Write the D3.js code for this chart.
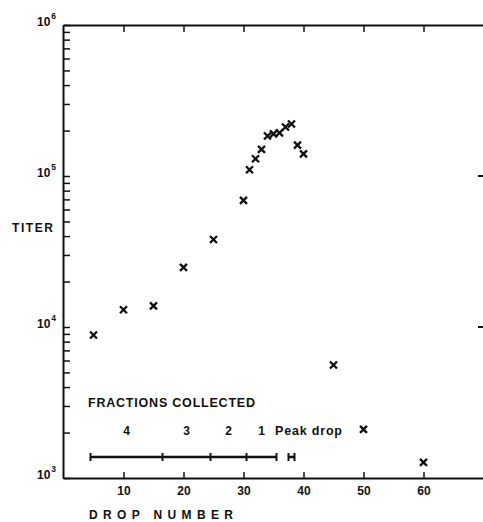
<!DOCTYPE html>
<html>
<head>
    <style>
        body { margin: 0; background: #fff; }
        svg text {
            font-family: "Liberation Sans", Arial, sans-serif;
            font-weight: bold;
            fill: #111;
        }
        .axis path, .axis line { stroke: #111; }
        .axis path { stroke-width: 2; }
        .axis line { stroke-width: 1.5; }
    </style>
    <script src="https://d3js.org/d3.v7.min.js"></script>
</head>
<body>
    <svg width="483" height="522"></svg>
    <script>
        // drop number and titer
        var drops = [5, 10, 15, 20, 25, 30, 31, 32, 33, 34, 35, 36, 37, 38, 39, 40, 45, 50, 60];
        var titers = [8850, 13000, 13800, 24800, 38000, 69000, 110000, 130000, 150000, 184000,
            190000, 193000, 211000, 221000, 160000, 140000, 5600, 2100, 1270];

        var xTicks = [10, 20, 30, 40, 50, 60];
        var decades = [1e3, 1e4, 1e5, 1e6];
        var decadeExp = ["3", "4", "5", "6"];

        // fractions collected: boundaries (drop number) and their labels
        var fractionEdges = [4.5, 16.5, 24.5, 30.5, 35.5];
        var fractionNames = ["4", "3", "2", "1"];
        var peakDrop = [37.5, 38.5];

        var svg = d3.select("svg");

        var x = d3.scaleLinear().domain([0, 70]).range([63.5, 483.5]);
        var y = d3.scaleLog().domain([1e3, 1e6]).range([478, 25]);

        // all minor + major log ticks
        var logTicks = [];
        decades.forEach(function (d) {
            for (var i = 1; i < 10; i++) {
                if (d * i <= 1e6) logTicks.push(d * i);
            }
        });

        // bottom axis
        svg.append("g")
            .attr("class", "axis")
            .attr("transform", "translate(0,478)")
            .call(d3.axisBottom(x).tickValues(xTicks).tickSizeInner(-6).tickSizeOuter(0).tickPadding(8))
            .call(function (g) {
                g.selectAll("text").style("font-size", "12px").attr("fill", "#111");
            });

        // top axis
        svg.append("g")
            .attr("class", "axis")
            .attr("transform", "translate(0,25)")
            .call(d3.axisTop(x).tickValues(xTicks).tickSizeInner(-7).tickSizeOuter(0).tickFormat(""));

        // left axis
        svg.append("g")
            .attr("class", "axis")
            .attr("transform", "translate(63,0)")
            .call(d3.axisLeft(y).tickValues(logTicks).tickSizeInner(-7).tickSizeOuter(0).tickFormat(""));

        // right side decade marks (frame itself is cut off)
        svg.append("g")
            .selectAll("line")
            .data(decades.slice(1, 3))
            .enter().append("line")
            .attr("x1", 478).attr("x2", 483)
            .attr("y1", function (d) { return y(d); })
            .attr("y2", function (d) { return y(d); })
            .attr("stroke", "#111")
            .attr("stroke-width", 2);

        // y labels 10^n
        var ylab = svg.append("g").selectAll("text")
            .data(decades)
            .enter().append("text")
            .attr("x", 37)
            .attr("y", function (d) { return y(d) + 1; })
            .style("font-size", "12px");
        ylab.append("tspan").text("10");
        ylab.append("tspan")
            .attr("dx", 1)
            .attr("dy", -7)
            .style("font-size", "8.5px")
            .text(function (d, i) { return decadeExp[i]; });

        svg.append("text")
            .attr("x", 12).attr("y", 232)
            .attr("textLength", 41).attr("lengthAdjust", "spacing")
            .style("font-size", "12px")
            .text("TITER");

        svg.append("text")
            .attr("x", 89).attr("y", 519)
            .attr("textLength", 144).attr("lengthAdjust", "spacing")
            .style("font-size", "12px")
            .text("DROP NUMBER");

        // data markers
        svg.append("g").selectAll("path")
            .data(drops)
            .enter().append("path")
            .attr("transform", function (d, i) { return "translate(" + x(d) + "," + y(titers[i]) + ")"; })
            .attr("d", "M-3.5,-3.5L3.5,3.5M3.5,-3.5L-3.5,3.5")
            .attr("stroke", "#111")
            .attr("stroke-width", 2.3);

        // fractions collected
        svg.append("text")
            .attr("x", 88).attr("y", 407)
            .attr("textLength", 167).attr("lengthAdjust", "spacing")
            .style("font-size", "12.5px")
            .text("FRACTIONS COLLECTED");

        var barY = 457;
        svg.append("line")
            .attr("x1", x(fractionEdges[0])).attr("x2", x(fractionEdges[fractionEdges.length - 1]))
            .attr("y1", barY).attr("y2", barY)
            .attr("stroke", "#111").attr("stroke-width", 2.5);
        svg.append("g").selectAll("line")
            .data(fractionEdges)
            .enter().append("line")
            .attr("x1", function (d) { return x(d); })
            .attr("x2", function (d) { return x(d); })
            .attr("y1", barY - 4).attr("y2", barY + 4)
            .attr("stroke", "#111").attr("stroke-width", 2);

        svg.append("g").selectAll("text")
            .data(fractionNames)
            .enter().append("text")
            .attr("x", function (d, i) { return x((fractionEdges[i] + fractionEdges[i + 1]) / 2); })
            .attr("y", 435)
            .attr("text-anchor", "middle")
            .style("font-size", "12px")
            .text(function (d) { return d; });

        svg.append("text")
            .attr("x", 275).attr("y", 435)
            .attr("textLength", 67).attr("lengthAdjust", "spacing")
            .style("font-size", "12.5px")
            .text("Peak drop");

        // peak drop bracket
        svg.append("line")
            .attr("x1", x(peakDrop[0])).attr("x2", x(peakDrop[1]))
            .attr("y1", barY).attr("y2", barY)
            .attr("stroke", "#111").attr("stroke-width", 2.5);
        svg.append("g").selectAll("line")
            .data(peakDrop)
            .enter().append("line")
            .attr("x1", function (d) { return x(d); })
            .attr("x2", function (d) { return x(d); })
            .attr("y1", barY - 4).attr("y2", barY + 4)
            .attr("stroke", "#111").attr("stroke-width", 2);
    </script>
</body>
</html>
